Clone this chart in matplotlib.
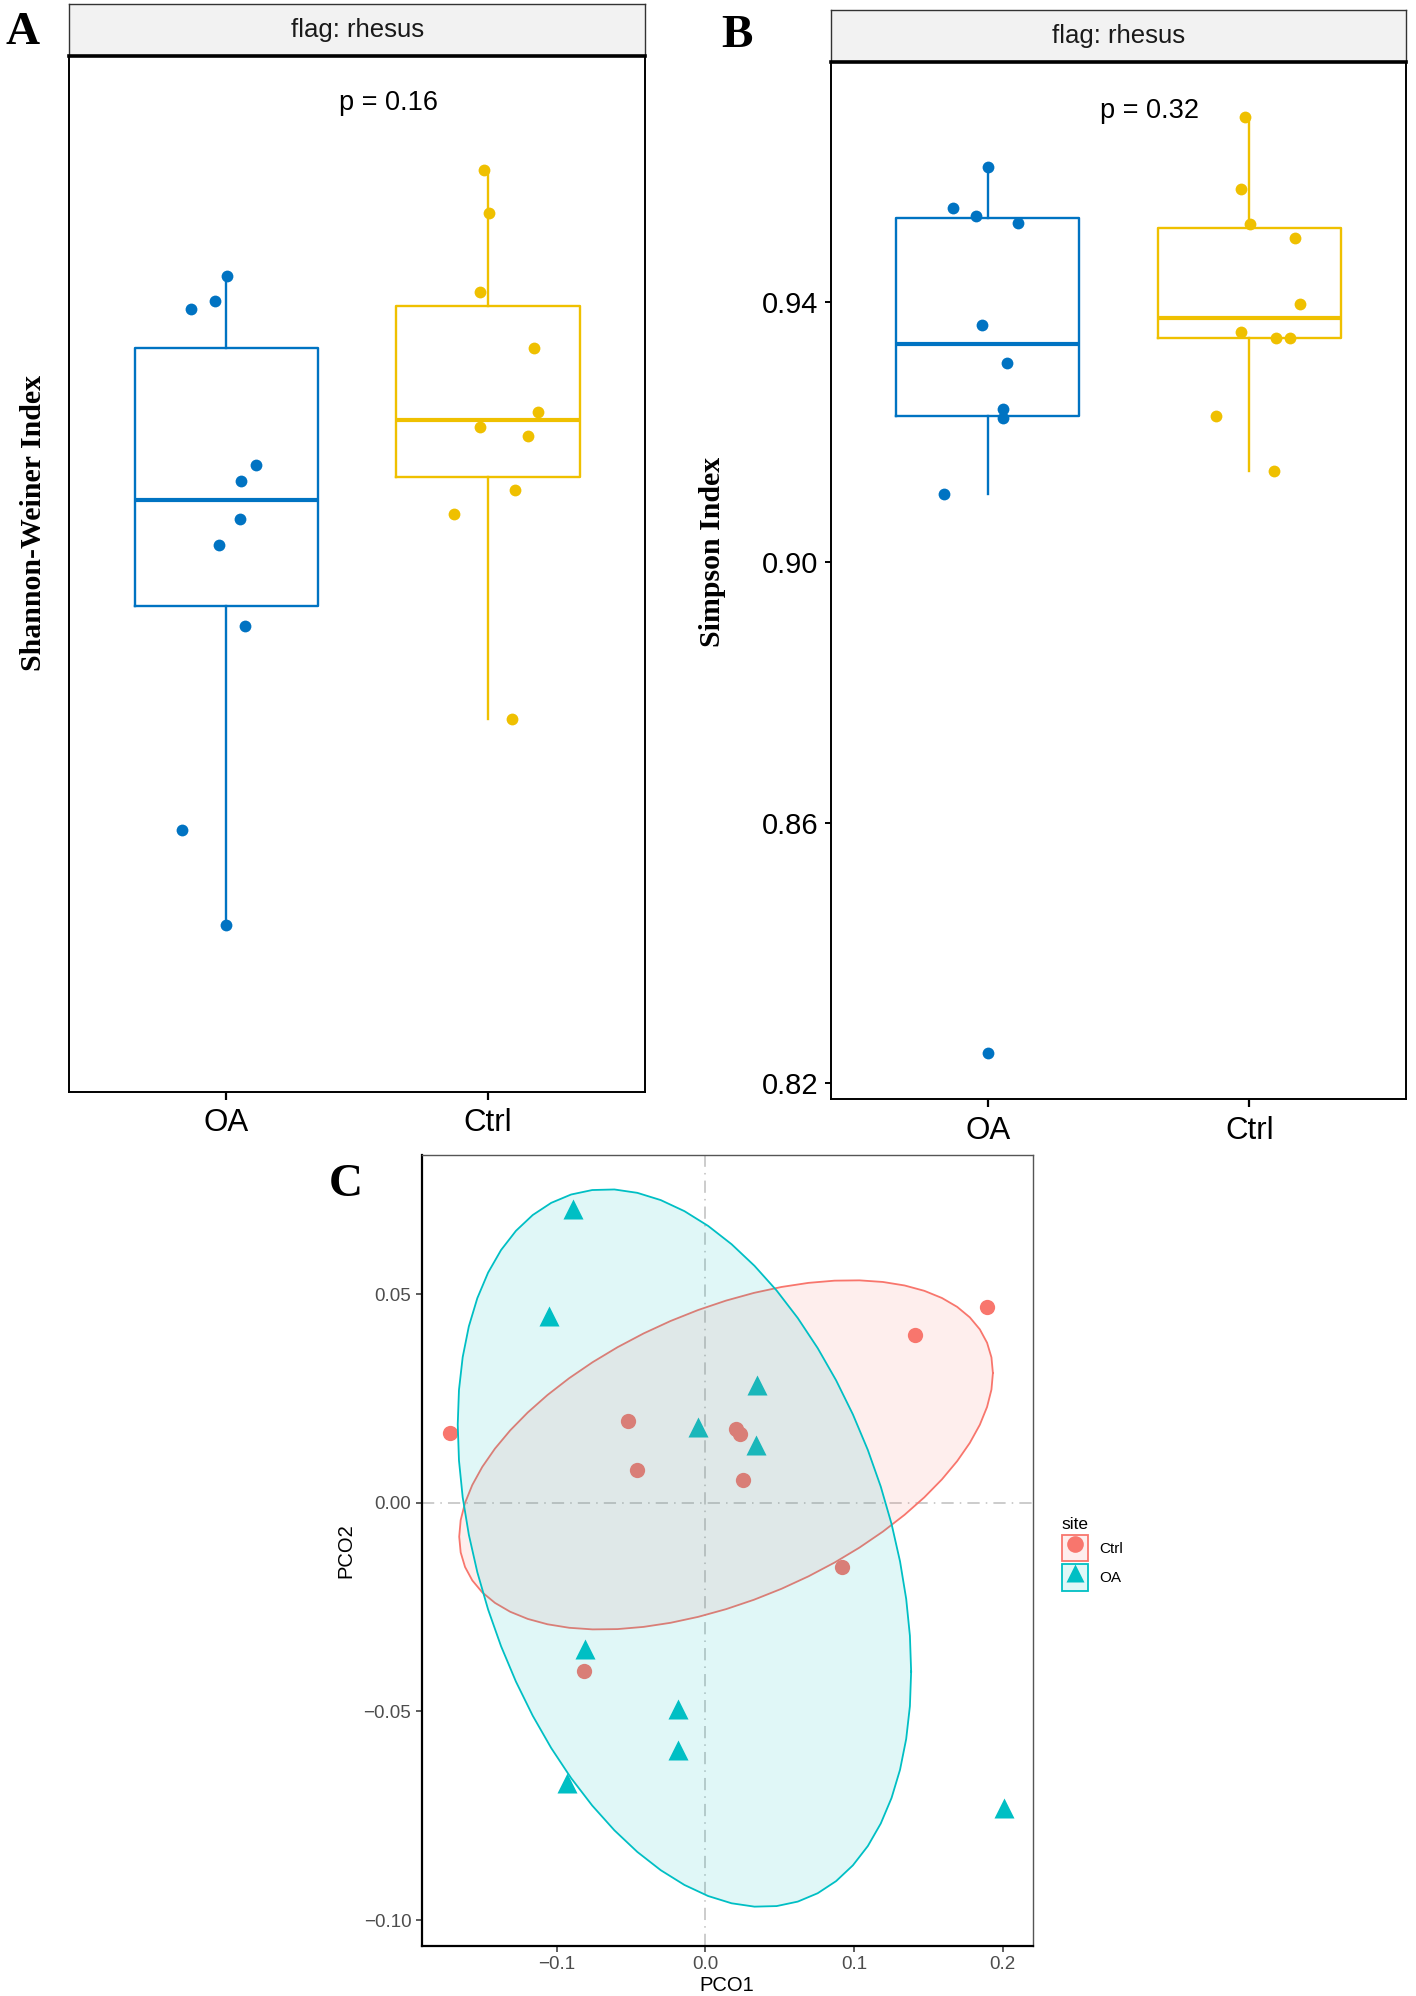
import numpy as np
import matplotlib
matplotlib.use("Agg")
import matplotlib.pyplot as plt
from matplotlib.patches import Patch
from matplotlib.lines import Line2D

plt.rcParams['font.family'] = ['Liberation Sans', 'DejaVu Sans']

# ---- data ----
groups = ["OA", "Ctrl"]

# panel A: Shannon-Weiner index (no axis scale printed in the original)
shannon_oa = [5.829, 5.847, 5.910, 5.438, 5.398, 5.303, 5.238, 5.036, 4.525, 4.289]
shannon_ctrl = [6.175, 6.069, 5.870, 5.730, 5.571, 5.532, 5.510, 5.375, 5.315, 4.802]
shannon_jit_oa = [-0.134, -0.044, 0.002, 0.114, 0.056, 0.054, -0.026, 0.071, -0.168, 0.0]
shannon_jit_ctrl = [-0.017, 0.002, -0.032, 0.175, 0.192, -0.032, 0.153, 0.102, -0.129, 0.093]
shannon_p = "p = 0.16"

# panel B: Simpson index
simpson_oa = [0.9607, 0.9544, 0.9531, 0.9521, 0.9365, 0.9306, 0.9236, 0.9221, 0.9105, 0.8246]
simpson_ctrl = [0.9683, 0.9573, 0.9519, 0.9498, 0.9397, 0.9353, 0.9345, 0.9345, 0.9225, 0.9140]
simpson_jit_oa = [0.003, -0.132, -0.044, 0.117, -0.023, 0.073, 0.057, 0.059, -0.165, 0.0]
simpson_jit_ctrl = [-0.018, -0.031, 0.003, 0.176, 0.193, -0.031, 0.103, 0.155, -0.129, 0.094]
simpson_ticks = [0.82, 0.86, 0.90, 0.94]
simpson_p = "p = 0.32"

# panel C: PCoA
pco1_ctrl = [-0.1720, -0.0521, -0.0459, 0.0205, 0.0234, 0.0253, 0.1409, 0.1897, 0.0917, -0.0817]
pco2_ctrl = [0.0167, 0.0196, 0.0078, 0.0176, 0.0164, 0.0054, 0.0402, 0.0469, -0.0155, -0.0404]
pco1_oa = [-0.0889, -0.1051, 0.0349, -0.0048, 0.0339, -0.0812, -0.0186, -0.0182, -0.0932, 0.2011]
pco2_oa = [0.0703, 0.0447, 0.0282, 0.0181, 0.0139, -0.0350, -0.0493, -0.0592, -0.0671, -0.0731]
pco_xticks = [-0.1, 0.0, 0.1, 0.2]
pco_yticks = [-0.10, -0.05, 0.00, 0.05]
ellipse_level = 0.7

blue = "#0073C2"
yellow = "#EFC000"
red = "#F8766D"
cyan = "#00BFC4"


def ellipse_points(x, y, level=ellipse_level, segments=60):
    # normal-theory ellipse, like stat_ellipse(type = "norm")
    xy = np.column_stack([x, y])
    center = xy.mean(axis=0)
    shape = np.cov(xy.T)
    dfd = len(x) - 1
    qf = dfd / 2 * ((1 - level) ** (-2 / dfd) - 1)  # F(2, dfd) quantile
    radius = np.sqrt(2 * qf)
    t = np.linspace(0, 2 * np.pi, segments + 1)
    circle = np.column_stack([np.cos(t), np.sin(t)])
    L = np.linalg.cholesky(shape)
    return center + radius * circle @ L.T


def box_panel(ax, strip, oa, ctrl, jit_oa, jit_ctrl, ptext, py):
    for pos, vals, jit, col in [(1, oa, jit_oa, blue), (2, ctrl, jit_ctrl, yellow)]:
        ax.boxplot([vals], positions=[pos], widths=0.7, showcaps=False, showfliers=False,
                   boxprops=dict(color=col, lw=1.7),
                   whiskerprops=dict(color=col, lw=1.7),
                   medianprops=dict(color=col, lw=3.0))
        ax.plot(pos + np.array(jit), vals, 'o', color=col, ms=8.5, mec='none', zorder=3)
    ax.set_xlim(0.4, 2.6)
    ax.set_xticks([1, 2], groups)
    ax.tick_params(axis='x', labelsize=22.5, length=6, width=1.6, pad=6, colors='black')
    ax.text(1.62, py, ptext, ha='center', va='center', fontsize=19.5)
    for s in ax.spines.values():
        s.set_linewidth(1.4)
        s.set_color('black')
    strip.set_xticks([])
    strip.set_yticks([])
    strip.set_facecolor('#F2F2F2')
    for s in ['top', 'left', 'right']:
        strip.spines[s].set_linewidth(1.0)
        strip.spines[s].set_color('#333333')
    strip.spines['bottom'].set_linewidth(2.6)
    strip.spines['bottom'].set_color('black')
    strip.text(0.5, 0.5, "flag: rhesus", ha='center', va='center', fontsize=18.5,
               color='#1A1A1A', transform=strip.transAxes)


fig = plt.figure(figsize=(14.16, 19.96), dpi=100)

# ---- panel A ----
axA = fig.add_axes([0.04887, 0.45301, 0.40671, 0.51883])
stripA = fig.add_axes([0.04887, 0.97184, 0.40671, 0.02636])
box_panel(axA, stripA, shannon_oa, shannon_ctrl, shannon_jit_oa, shannon_jit_ctrl,
          shannon_p, 6.3425)
axA.set_ylim(3.871, 6.460)
axA.set_yticks([])
fig.text(34 / 1416, 1 - 523 / 1996, "Shannon-Weiner Index", rotation=90, ha='center',
         va='center', fontsize=21.5, fontweight='bold', family='Liberation Serif')

# ---- panel B ----
axB = fig.add_axes([0.58658, 0.44940, 0.40664, 0.51954])
stripB = fig.add_axes([0.58658, 0.96894, 0.40664, 0.02605])
box_panel(axB, stripB, simpson_oa, simpson_ctrl, simpson_jit_oa, simpson_jit_ctrl,
          simpson_p, 0.9693)
axB.set_ylim(0.8176, 0.9768)
axB.set_yticks(simpson_ticks, ["%.2f" % v for v in simpson_ticks])
axB.tick_params(axis='y', labelsize=21, length=4, width=1.4, pad=5, colors='black')
fig.text(713 / 1416, 1 - 552 / 1996, "Simpson Index", rotation=90, ha='center',
         va='center', fontsize=21.5, fontweight='bold', family='Liberation Serif')

# ---- panel C ----
axC = fig.add_axes([0.29781, 0.02520, 0.43150, 0.39614])
axC.axhline(0, color='#BEBEBE', lw=1.1, ls=(0, (8, 4, 1, 4)), zorder=0)
axC.axvline(0, color='#BEBEBE', lw=1.1, ls=(0, (8, 4, 1, 4)), zorder=0)
axC.plot(pco1_ctrl, pco2_ctrl, 'o', color=red, ms=11, mec='none', zorder=1)
axC.plot(pco1_oa, pco2_oa, '^', color=cyan, ms=14, mec='none', zorder=1)
for x, y, col in [(pco1_ctrl, pco2_ctrl, red), (pco1_oa, pco2_oa, cyan)]:
    e = ellipse_points(x, y)
    axC.fill(e[:, 0], e[:, 1], facecolor=col, alpha=0.12, edgecolor='none', zorder=2)
    axC.plot(e[:, 0], e[:, 1], color=col, lw=1.3, zorder=2)
axC.set_xlim(-0.1907, 0.2202)
axC.set_ylim(-0.1061, 0.0833)
axC.set_xticks(pco_xticks, [("%.1f" % v).replace('-', '\u2212') for v in pco_xticks])
axC.set_yticks(pco_yticks, [("%.2f" % v).replace('-', '\u2212') for v in pco_yticks])
axC.tick_params(labelsize=13.5, labelcolor='#4D4D4D', color='#333333', length=4, width=1.1)
axC.set_xlabel("PCO1", fontsize=14.5, labelpad=2)
axC.set_ylabel("PCO2", fontsize=14.5, labelpad=6)
for s in ['left', 'bottom']:
    axC.spines[s].set_linewidth(1.6)
    axC.spines[s].set_color('black')
for s in ['top', 'right']:
    axC.spines[s].set_linewidth(1.0)
    axC.spines[s].set_color('#555555')

handles = [
    (Patch(facecolor=(0.973, 0.463, 0.427, 0.12), edgecolor=red, lw=1.3),
     Line2D([], [], marker='o', color=red, ls='', ms=12, mec='none')),
    (Patch(facecolor=(0.0, 0.749, 0.769, 0.12), edgecolor=cyan, lw=1.3),
     Line2D([], [], marker='^', color=cyan, ls='', ms=13, mec='none')),
]
axC.legend(handles, ["Ctrl", "OA"], title="site", loc='upper left',
           bbox_to_anchor=(1057 / 1416, 1 - 1512 / 1996), bbox_transform=fig.transFigure,
           frameon=False, fontsize=11, title_fontsize=12.5, handlelength=1.75,
           handleheight=2.3, handletextpad=0.7, labelspacing=0.2, alignment='left',
           borderaxespad=0, borderpad=0.3)

# panel letters
for lbl, x, y in [("A", 23, 33), ("B", 737, 36), ("C", 346, 1185)]:
    fig.text(x / 1416, 1 - y / 1996, lbl, ha='center', va='center', fontsize=34,
             fontweight='bold', family='Liberation Serif')

plt.savefig("out.png", dpi=100)
